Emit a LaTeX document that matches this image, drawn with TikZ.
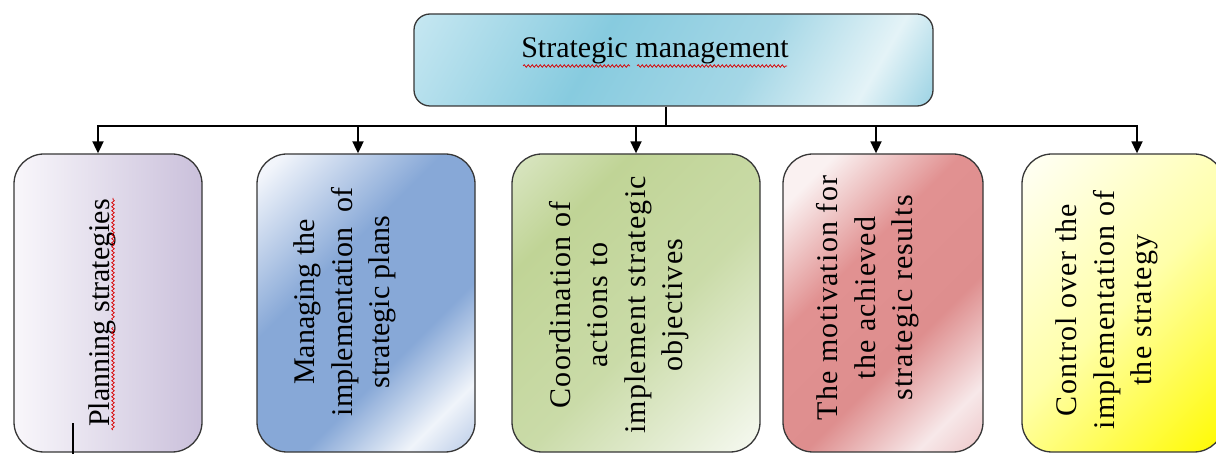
\documentclass[tikz,border=0pt]{standalone}
\usepackage{fontspec}
\setmainfont{Liberation Serif}
\newfontfamily\spacedfont[LetterSpace=4]{Liberation Serif}
\usetikzlibrary{arrows.meta,decorations.pathmorphing}

\definecolor{topA}{RGB}{200,232,242}
\definecolor{topB}{RGB}{135,203,223}
\definecolor{topC}{RGB}{165,215,230}
\definecolor{topD}{RGB}{228,243,247}
\definecolor{topE}{RGB}{150,208,226}
\definecolor{lavA}{RGB}{249,247,251}
\definecolor{lavB}{RGB}{202,192,219}
\definecolor{bluA}{RGB}{242,245,251}
\definecolor{bluB}{RGB}{135,168,215}
\definecolor{bluC}{RGB}{240,244,250}
\definecolor{bluD}{RGB}{170,192,226}
\definecolor{grnA}{RGB}{218,230,195}
\definecolor{grnB}{RGB}{192,212,150}
\definecolor{grnC}{RGB}{202,219,168}
\definecolor{grnD}{RGB}{246,249,241}
\definecolor{redA}{RGB}{250,241,241}
\definecolor{redB}{RGB}{225,145,145}
\definecolor{redC}{RGB}{222,142,142}
\definecolor{redD}{RGB}{247,232,233}
\definecolor{redE}{RGB}{234,188,190}
\definecolor{ylwA}{RGB}{255,255,240}
\definecolor{ylwB}{RGB}{255,255,170}
\definecolor{ylwC}{RGB}{255,250,0}
\definecolor{edge}{RGB}{55,55,55}

\pgfdeclarehorizontalshading{topshade}{100bp}{color(0bp)=(topA); color(15bp)=(topA); color(40bp)=(topB); color(60bp)=(topC); color(75bp)=(topD); color(85bp)=(topE); color(100bp)=(topE)}
\pgfdeclarehorizontalshading{lavshade}{100bp}{color(0bp)=(lavA); color(25bp)=(lavA); color(75bp)=(lavB); color(100bp)=(lavB)}
\pgfdeclarehorizontalshading{blushade}{100bp}{color(0bp)=(bluA); color(18bp)=(bluA); color(40bp)=(bluB); color(62bp)=(bluB); color(76bp)=(bluC); color(88bp)=(bluD); color(100bp)=(bluD)}
\pgfdeclarehorizontalshading{grnshade}{100bp}{color(0bp)=(grnA); color(15bp)=(grnA); color(30bp)=(grnB); color(55bp)=(grnC); color(85bp)=(grnD); color(100bp)=(grnD)}
\pgfdeclarehorizontalshading{redshade}{100bp}{color(0bp)=(redA); color(22bp)=(redA); color(40bp)=(redB); color(60bp)=(redC); color(76bp)=(redD); color(88bp)=(redE); color(100bp)=(redE)}
\pgfdeclarehorizontalshading{ylwshade}{100bp}{color(0bp)=(ylwA); color(18bp)=(ylwA); color(50bp)=(ylwB); color(85bp)=(ylwC); color(100bp)=(ylwC)}

\tikzset{
  box/.style={draw=edge, line width=1.3pt, rounded corners=30pt, minimum height=298pt, inner sep=0pt, shade, shading angle=-45},
  topbox/.style={draw=edge, line width=1.3pt, rounded corners=16pt, inner sep=0pt, shade, shading=topshade, shading angle=-30},
  conn/.style={line width=1.8pt, black},
  arr/.style={conn, -{Triangle[length=12pt,width=11pt]}},
  hlabel/.style={inner sep=0pt, font=\fontsize{30}{37.5}\selectfont},
  vlabel/.style={inner sep=0pt, rotate=90, align=center, font=\fontsize{30}{37.5}\selectfont},
  vlabelsp/.style={inner sep=0pt, rotate=90, align=center, font=\spacedfont\fontsize{30}{37.5}\selectfont},
  wavy/.style={red!85!black, line width=0.7pt, decorate, decoration={snake, segment length=4pt, amplitude=1.3pt}},
}

\begin{document}
\begin{tikzpicture}[x=1pt, y=-1pt]
\useasboundingbox (0,0) rectangle (1216,454);

% top box
\node[topbox, minimum width=519pt, minimum height=92pt] (top) at (673.5,60) {};
\node[hlabel, anchor=base] (t0) at (655,58) {Strategic management};

% lower boxes
\node[box, minimum width=188pt, shading=lavshade, shading angle=0] (b1) at (108,303) {};
\node[box, minimum width=218pt, shading=blushade] (b2) at (366,303) {};
\node[box, minimum width=248pt, shading=grnshade] (b3) at (636,303) {};
\node[box, minimum width=200pt, shading=redshade] (b4) at (883,303) {};
\node[box, minimum width=202pt, shading=ylwshade] (b5) at (1123,303) {};

% texts
\node[vlabel] (t1) at (102,313) {Planning strategies};
\node[vlabel] (t2) at (345,302) {Managing the\\implementation\ \ of\\strategic plans};
\node[vlabelsp] (t3) at (619,305) {Coordination of\\actions to\\implement strategic\\objectives};
\node[vlabelsp] (t4) at (868,298) {The motivation for\\the achieved\\strategic results};
\node[vlabelsp] (t5) at (1107,310) {Control over the\\implementation of\\the strategy};

% connectors
\coordinate (st) at (666,126);
\coordinate (h1) at (98,126);
\coordinate (h2) at (358,126);
\coordinate (h3) at (636,126);
\coordinate (h4) at (876,126);
\coordinate (h5) at (1137,126);
\draw[conn] (st |- top.south) -- (st);
\draw[arr] (st) -- (h1) -- (h1 |- b1.north);
\draw[arr] (st) -- (h5) -- (h5 |- b5.north);
\draw[arr] (h2) -- (h2 |- b2.north);
\draw[arr] (h3) -- (h3 |- b3.north);
\draw[arr] (h4) -- (h4 |- b4.north);

% spell-check underlines
\draw[wavy] (523,66) -- (630,66);
\draw[wavy] (637,66) -- (787,66);
\draw[wavy] (113,430) -- (113,327);
\draw[wavy] (113,320) -- (113,198);

% cursor mark
\draw[line width=1.6pt] (73,423) -- (73,454);
\end{tikzpicture}
\end{document}
